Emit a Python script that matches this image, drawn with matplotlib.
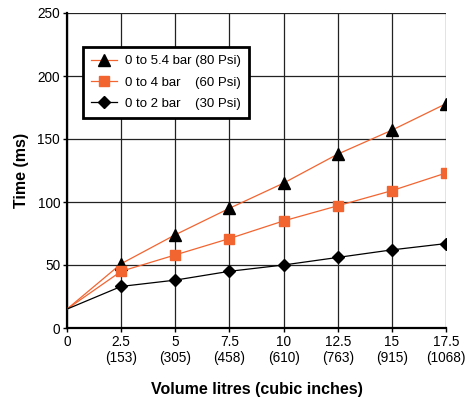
import numpy as np
import matplotlib.pyplot as plt

plt.rcParams['font.family'] = ['Liberation Sans', 'DejaVu Sans']

# Volume in litres, with cubic inches for the tick labels
volume = [0, 2.5, 5, 7.5, 10, 12.5, 15, 17.5]
cubic_in = ['', '(153)', '(305)', '(458)', '(610)', '(763)', '(915)', '(1068)']

# Time (ms) for each pressure range
t_80psi = [15, 51, 74, 95, 115, 138, 157, 178]
t_60psi = [15, 45, 58, 71, 85, 97, 109, 123]
t_30psi = [15, 33, 38, 45, 50, 56, 62, 67]

labels = ['0 to 5.4 bar (80 Psi)', '0 to 4 bar    (60 Psi)', '0 to 2 bar    (30 Psi)']

orange = '#f26531'

fig = plt.figure(figsize=(4.69, 4.01), dpi=100)
ax = fig.add_axes([67 / 469, 1 - 328 / 401, (446 - 67) / 469, (328 - 13) / 401])

mk = list(range(1, len(volume)))
ax.plot(volume, t_80psi, color=orange, lw=0.9, marker='^', ms=8.5,
        mfc='black', mec='black', markevery=mk, label=labels[0], zorder=3)
ax.plot(volume, t_60psi, color=orange, lw=0.9, marker='s', ms=7,
        mfc=orange, mec=orange, markevery=mk, label=labels[1], zorder=3)
ax.plot(volume, t_30psi, color='black', lw=0.9, marker='D', ms=6.5,
        mfc='black', mec='black', markevery=mk, label=labels[2], zorder=3)

ax.set_xlim(0, 17.5)
ax.set_ylim(0, 250)
ax.set_xticks(volume)
ax.set_xticklabels([f'{v:g}\n{c}' if c else f'{v:g}' for v, c in zip(volume, cubic_in)],
                   va='top')
ax.set_yticks(np.arange(0, 251, 50))
ax.tick_params(axis='both', labelsize=9.8, direction='out', length=3, width=1, pad=2)
ax.grid(True, color='#222222', lw=0.9)
ax.set_axisbelow(True)

for s in ['top', 'right']:
    ax.spines[s].set_visible(False)
for s in ['left', 'bottom']:
    ax.spines[s].set_linewidth(1.6)

ax.set_xlabel('Volume litres (cubic inches)', fontsize=11.5, fontweight='bold', labelpad=12)
ax.set_ylabel('Time (ms)', fontsize=11.5, fontweight='bold', labelpad=6)

leg = ax.legend(loc='upper left', bbox_to_anchor=(0.042, 0.892), borderaxespad=0,
                fontsize=9.5, fancybox=False, framealpha=1, edgecolor='black',
                handlelength=2.0, handletextpad=0.6, borderpad=0.6, labelspacing=0.7)
leg.get_frame().set_linewidth(2)

fig.savefig('out.png', dpi=100)
